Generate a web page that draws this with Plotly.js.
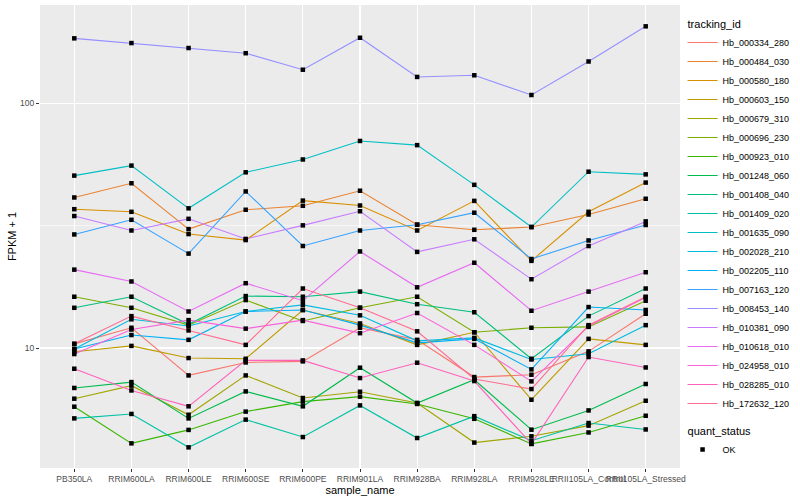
<!DOCTYPE html>
<html>
<head>
<meta charset="utf-8">
<script src="https://cdn.plot.ly/plotly-3.0.1.min.js"></script>
<style>html,body{margin:0;padding:0;background:#fff;}#chart{width:800px;height:500px;}</style>
</head>
<body>
<div id="chart"></div>
<script>
// sample categories (x axis)
const categories = ['PB350LA','RRIM600LA','RRIM600LE','RRIM600SE','RRIM600PE','RRIM901LA','RRIM928BA','RRIM928LA','RRIM928LE','RRII105LA_Control','RRII105LA_Stressed'];

// FPKM + 1 values per tracking_id
const Hb_000334_280 = [10.4, 12.1, 7.73, 8.73, 8.82, 12.1, 10.8, 7.61, 7.78, 9.69, 13.8];
const Hb_000484_030 = [41.2, 47.1, 30.6, 36.7, 38.1, 43.9, 31.9, 30.4, 31.2, 35.1, 40.7];
const Hb_000580_180 = [36.9, 36.0, 29.2, 27.6, 40.0, 38.2, 30.2, 39.9, 22.7, 36.0, 47.4];
const Hb_000603_150 = [9.66, 10.2, 9.10, 9.04, 14.3, 12.6, 10.3, 11.6, 6.15, 10.9, 10.3];
const Hb_000679_310 = [6.21, 7.02, 5.34, 7.73, 6.25, 6.63, 5.96, 4.11, 4.36, 4.82, 6.09];
const Hb_000696_230 = [16.2, 14.6, 12.4, 15.7, 12.9, 14.6, 16.2, 11.6, 12.1, 12.2, 15.6];
const Hb_000923_010 = [5.76, 4.08, 4.63, 5.50, 6.04, 6.33, 5.91, 5.14, 4.06, 4.52, 5.29];
const Hb_001248_060 = [6.87, 7.26, 5.16, 6.65, 5.78, 8.31, 5.96, 7.42, 4.64, 5.56, 7.13];
const Hb_001408_040 = [14.6, 16.2, 12.5, 16.3, 16.2, 17.0, 15.1, 14.0, 9.04, 13.5, 17.5];
const Hb_001409_020 = [5.16, 5.38, 3.93, 5.10, 4.33, 5.83, 4.29, 5.27, 4.18, 4.94, 4.65];
const Hb_001635_090 = [50.6, 55.6, 37.2, 52.2, 58.9, 70.1, 67.4, 46.4, 31.2, 52.5, 51.2];
const Hb_002028_210 = [9.91, 13.1, 12.3, 14.1, 15.0, 13.6, 10.7, 11.0, 8.98, 9.48, 12.4];
const Hb_002205_110 = [9.91, 11.3, 10.8, 14.1, 14.3, 12.4, 10.5, 10.9, 8.18, 14.7, 14.3];
const Hb_007163_120 = [29.1, 33.4, 24.3, 43.6, 26.1, 30.2, 31.9, 35.7, 23.1, 27.5, 31.8];
const Hb_008453_140 = [184, 176, 168, 160, 137, 185, 128, 130, 108, 148, 206];
const Hb_010381_090 = [34.6, 30.2, 33.7, 27.9, 31.7, 36.2, 24.7, 27.8, 19.1, 26.1, 32.9];
const Hb_010618_010 = [20.9, 18.7, 14.1, 18.4, 15.6, 24.8, 17.7, 22.3, 14.2, 17.0, 20.4];
const Hb_024958_010 = [9.45, 11.9, 13.0, 12.0, 13.0, 11.5, 13.9, 10.3, 7.31, 12.3, 16.1];
const Hb_028285_010 = [8.23, 6.71, 5.78, 8.90, 8.90, 7.54, 8.71, 7.33, 4.06, 9.19, 8.33];
const Hb_172632_120 = [10.4, 13.5, 11.8, 10.3, 17.5, 14.6, 11.7, 7.47, 6.80, 12.4, 16.2];

const trackingIds = ['Hb_000334_280','Hb_000484_030','Hb_000580_180','Hb_000603_150','Hb_000679_310','Hb_000696_230','Hb_000923_010','Hb_001248_060','Hb_001408_040','Hb_001409_020','Hb_001635_090','Hb_002028_210','Hb_002205_110','Hb_007163_120','Hb_008453_140','Hb_010381_090','Hb_010618_010','Hb_024958_010','Hb_028285_010','Hb_172632_120'];
const seriesValues = [Hb_000334_280,Hb_000484_030,Hb_000580_180,Hb_000603_150,Hb_000679_310,Hb_000696_230,Hb_000923_010,Hb_001248_060,Hb_001408_040,Hb_001409_020,Hb_001635_090,Hb_002028_210,Hb_002205_110,Hb_007163_120,Hb_008453_140,Hb_010381_090,Hb_010618_010,Hb_024958_010,Hb_028285_010,Hb_172632_120];
const seriesColors = ['#F8766D','#EA8331','#D89000','#C09B00','#A3A500','#7CAE00','#39B600','#00BB4E','#00BF7D','#00C1A3','#00BFC4','#00BAE0','#00B0F6','#35A2FF','#9590FF','#C77CFF','#E76BF3','#FA62DB','#FF62BC','#FF6C91'];
const quantStatus = ['OK'];

const FONT = '"Liberation Sans", Arial, Helvetica, sans-serif';

const traces = trackingIds.map((id, i) => ({
  type: 'scatter',
  mode: 'lines',
  x: categories,
  y: seriesValues[i],
  name: id,
  line: {color: seriesColors[i], width: 1.1},
  legendgroup: 'tracking_id',
  legendgrouptitle: {text: 'tracking_id', font: {size: 11, color: '#000', family: FONT}},
  hoverinfo: 'name+y'
}));

const ptsX = [], ptsY = [];
seriesValues.forEach(vals => vals.forEach((v, j) => { ptsX.push(categories[j]); ptsY.push(v); }));
traces.push({
  type: 'scatter',
  mode: 'markers',
  x: ptsX,
  y: ptsY,
  name: quantStatus[0],
  marker: {color: '#000000', symbol: 'square', size: 4.5},
  legendgroup: 'quant_status',
  legendgrouptitle: {text: 'quant_status', font: {size: 11, color: '#000', family: FONT}}
});

const layout = {
  width: 800, height: 500,
  margin: {l: 40, r: 117, t: 5, b: 32, pad: 0},
  paper_bgcolor: '#FFFFFF',
  plot_bgcolor: '#EBEBEB',
  font: {family: FONT, size: 9, color: '#000'},
  showlegend: true,
  legend: {
    x: 1.004, xanchor: 'left', y: 0.5, yanchor: 'middle',
    font: {size: 9, color: '#000', family: FONT},
    traceorder: 'grouped', tracegroupgap: 8, itemwidth: 30,
    bgcolor: 'rgba(0,0,0,0)'
  },
  xaxis: {
    type: 'category',
    categoryorder: 'array', categoryarray: categories,
    range: [-0.6, categories.length - 0.4],
    showgrid: true, gridcolor: '#FFFFFF', gridwidth: 1.2,
    zeroline: false, showline: false,
    ticks: 'outside', ticklen: 3, tickcolor: '#333333', tickwidth: 1,
    tickangle: 0,
    tickfont: {size: 8.5, color: '#4D4D4D', family: FONT},
    title: {text: 'sample_name', font: {size: 11, color: '#000', family: FONT}, standoff: 1}
  },
  yaxis: {
    type: 'log',
    range: [0.510, 2.401],
    tickvals: [10, 100], ticktext: ['10', '100'],
    showgrid: true, gridcolor: '#FFFFFF', gridwidth: 1.2,
    minor: {tickvals: [Math.sqrt(10) * 10], showgrid: true, gridcolor: '#FFFFFF', gridwidth: 0.6, ticks: ''},
    zeroline: false, showline: false,
    ticks: 'outside', ticklen: 3, tickcolor: '#333333', tickwidth: 1,
    tickfont: {size: 8.5, color: '#4D4D4D', family: FONT},
    title: {text: 'FPKM + 1', font: {size: 11, color: '#000', family: FONT}, standoff: 1}
  }
};

Plotly.newPlot('chart', traces, layout, {displayModeBar: false, staticPlot: true});
</script>
</body>
</html>
